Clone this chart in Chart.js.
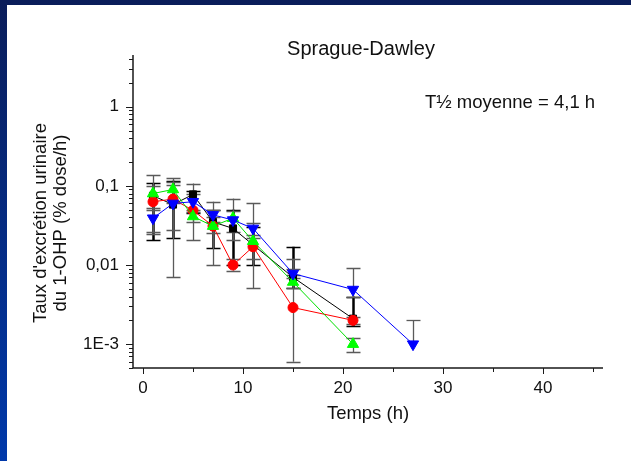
<!DOCTYPE html>
<html>
<head>
<meta charset="utf-8">
<script src="https://cdn.jsdelivr.net/npm/chart.js@4/dist/chart.umd.min.js"></script>
<style>
  html, body { margin: 0; padding: 0; background: #fff; }
  #wrap { width: 631px; height: 461px; position: relative; }
</style>
</head>
<body>
<div id="wrap"><canvas id="c" width="631" height="461"></canvas></div>
<script>
// Sampling times (h)
const times = [1, 3, 5, 7, 9, 11, 15, 21, 27];

// Mean excretion rate and its error range, per series (% dose/h)
const meanVals  = [0.075, 0.058, 0.078, 0.035, 0.029, 0.018, 0.007, 0.0021, null];
const meanLow   = [0.0205, 0.022, 0.045, 0.0163, 0.010, 0.010, 0.0051, 0.0017, null];
const meanHigh  = [0.109, 0.116, 0.087, 0.049, 0.050, 0.030, 0.017, 0.0040, null];

const redVals   = [0.063, 0.068, 0.049, 0.031, 0.010, 0.017, 0.0029, 0.0020, null];
const redLow    = [0.026, 0.0276, 0.0205, 0.010, 0.0085, 0.012, 0.0006, 0.0018, null];
const redHigh   = [0.100, 0.102, 0.107, 0.063, 0.012, 0.022, 0.012, 0.0022, null];

const greenVals = [0.080, 0.090, 0.041, 0.031, 0.039, 0.020, 0.0061, 0.0010, null];
const greenLow  = [0.050, 0.060, 0.035, 0.0253, 0.0205, 0.0051, 0.0051, 0.00079, null];
const greenHigh = [0.137, 0.124, 0.047, 0.040, 0.069, 0.060, 0.0075, 0.0012, null];

const blueVals  = [0.039, 0.060, 0.063, 0.043, 0.037, 0.029, 0.0078, 0.0049, 0.0010];
const blueLow   = [0.025, 0.007, 0.050, 0.035, 0.026, 0.024, 0.0068, 0.0040, 0.0010];
const blueHigh  = [0.053, 0.113, 0.080, 0.050, 0.048, 0.034, 0.0090, 0.0091, 0.0020];

// Axis ticks
const xTickValues = [0, 10, 20, 30, 40];
const xMinorValues = [5, 15, 25, 35, 45];
const yTickValues = [0.001, 0.01, 0.1, 1];
const yTickLabels = ['1E-3', '0,01', '0,1', '1'];

const FONT = "'Liberation Sans', Arial, sans-serif";

function pts(vals, lows, highs) {
  const out = [];
  times.forEach((t, i) => {
    if (vals[i] != null) out.push({ x: t, y: vals[i], lo: lows[i], hi: highs[i] });
  });
  return out;
}

// Blue frame along the top and left edges of the slide
const framePlugin = {
  id: 'frame',
  beforeDraw(chart) {
    const ctx = chart.ctx;
    const W = chart.width, H = chart.height;
    ctx.save();
    ctx.fillStyle = '#ffffff';
    ctx.fillRect(0, 0, W, H);
    const g = ctx.createLinearGradient(0, 0, 0, H);
    g.addColorStop(0, '#0a1d5a');
    g.addColorStop(1, '#0039aa');
    ctx.fillStyle = g;
    ctx.fillRect(0, 0, W, 5);
    ctx.fillRect(0, 0, 7, H);
    ctx.restore();
  }
};

// Vertical error bars with caps, drawn beneath the markers
const errorBarPlugin = {
  id: 'errorBars',
  beforeDatasetsDraw(chart) {
    const ctx = chart.ctx;
    const xs = chart.scales.x, ys = chart.scales.y;
    ctx.save();
    const sets = chart.data.datasets.slice().reverse();
    sets.forEach(ds => {
      ctx.strokeStyle = ds.errColor;
      ds.data.forEach(p => {
        const px = Math.round(xs.getPixelForValue(p.x)) + 0.5;
        const yl = ys.getPixelForValue(p.lo);
        const yh = ys.getPixelForValue(p.hi);
        ctx.lineWidth = ds.errWidth;
        ctx.beginPath();
        ctx.moveTo(px, yl); ctx.lineTo(px, yh);
        ctx.stroke();
        ctx.lineWidth = ds.capWidth;
        ctx.beginPath();
        if (p.hi > p.y) { ctx.moveTo(px - 7, Math.round(yh) + 0.5); ctx.lineTo(px + 7, Math.round(yh) + 0.5); }
        if (p.lo < p.y) { ctx.moveTo(px - 7, Math.round(yl) + 0.5); ctx.lineTo(px + 7, Math.round(yl) + 0.5); }
        ctx.stroke();
      });
    });
    ctx.restore();
  }
};

// Axis lines, major/minor tick marks and the free texts
const axesPlugin = {
  id: 'axesAndTexts',
  afterDraw(chart) {
    const ctx = chart.ctx;
    const a = chart.chartArea;
    const xs = chart.scales.x, ys = chart.scales.y;
    ctx.save();
    ctx.strokeStyle = '#1a1a1a';
    ctx.lineWidth = 1.5;
    ctx.beginPath();
    ctx.moveTo(a.left, a.top); ctx.lineTo(a.left, a.bottom);
    ctx.moveTo(a.left, a.bottom); ctx.lineTo(a.right, a.bottom);
    ctx.stroke();

    ctx.lineWidth = 1;
    ctx.beginPath();
    // y ticks: decades long, intermediates short
    for (let e = -4; e <= 0; e++) {
      for (let m = 1; m <= 9; m++) {
        const v = m * Math.pow(10, e);
        if (v < ys.min || v > ys.max) continue;
        const py = Math.round(ys.getPixelForValue(v)) + 0.5;
        const len = m === 1 ? 7 : 4;
        ctx.moveTo(a.left - len, py); ctx.lineTo(a.left, py);
      }
    }
    // x ticks
    xTickValues.forEach(v => {
      const px = Math.round(xs.getPixelForValue(v)) + 0.5;
      ctx.moveTo(px, a.bottom); ctx.lineTo(px, a.bottom + 6);
    });
    xMinorValues.forEach(v => {
      const px = Math.round(xs.getPixelForValue(v)) + 0.5;
      ctx.moveTo(px, a.bottom); ctx.lineTo(px, a.bottom + 4);
    });
    ctx.stroke();

    ctx.fillStyle = '#111';
    ctx.textAlign = 'center';
    ctx.textBaseline = 'alphabetic';
    ctx.font = '20px ' + FONT;
    ctx.fillText('Sprague-Dawley', 361, 55);
    ctx.font = '18.5px ' + FONT;
    ctx.fillText('T\u00bd moyenne = 4,1 h', 510, 108);
    ctx.fillText('Temps (h)', (a.left + a.right) / 2, 419);

    ctx.save();
    ctx.translate(0, 223);
    ctx.rotate(-Math.PI / 2);
    ctx.textBaseline = 'middle';
    ctx.fillText("Taux d'excr\u00e9tion urinaire", 0, 41);
    ctx.fillText('du 1-OHP (% dose/h)', 0, 61);
    ctx.restore();
    ctx.restore();
  }
};

const common = { showLine: true, borderWidth: 1, fill: false, tension: 0 };

new Chart(document.getElementById('c'), {
  type: 'scatter',
  data: {
    datasets: [
      Object.assign({}, common, {
        label: 'blue', data: pts(blueVals, blueLow, blueHigh),
        borderColor: '#0000ff', backgroundColor: '#0000ff',
        pointStyle: 'triangle', rotation: 180, pointRadius: 6.5,
        errColor: '#5a5a5a', errWidth: 1.3, capWidth: 1.3
      }),
      Object.assign({}, common, {
        label: 'green', data: pts(greenVals, greenLow, greenHigh),
        borderColor: '#00e000', backgroundColor: '#00ff00', pointBorderColor: '#00ff00',
        pointStyle: 'triangle', pointRadius: 6.5,
        errColor: '#5a5a5a', errWidth: 1.3, capWidth: 1.3
      }),
      Object.assign({}, common, {
        label: 'red', data: pts(redVals, redLow, redHigh),
        borderColor: '#ff0000', backgroundColor: '#ff0000',
        pointStyle: 'circle', pointRadius: 5,
        errColor: '#5a5a5a', errWidth: 1.3, capWidth: 1.3
      }),
      Object.assign({}, common, {
        label: 'moyenne', data: pts(meanVals, meanLow, meanHigh),
        borderColor: '#000', backgroundColor: '#000',
        pointStyle: 'rect', pointRadius: 5,
        errColor: '#000', errWidth: 2.5, capWidth: 1.5
      })
    ]
  },
  options: {
    responsive: false,
    animation: false,
    devicePixelRatio: 1,
    layout: { padding: { left: 0, right: 28, top: 55, bottom: 0 } },
    plugins: { legend: { display: false }, tooltip: { enabled: false }, title: { display: false } },
    scales: {
      x: {
        type: 'linear', min: -1, max: 46,
        grid: { display: false, drawTicks: false },
        border: { display: false },
        afterBuildTicks: s => { s.ticks = xTickValues.map(v => ({ value: v })); },
        afterFit: s => { s.height = 93; },
        ticks: { padding: 10, color: '#111', font: { family: FONT, size: 17 }, maxRotation: 0 }
      },
      y: {
        type: 'logarithmic', min: 0.0005, max: 4.5,
        grid: { display: false, drawTicks: false },
        border: { display: false },
        afterBuildTicks: s => { s.ticks = yTickValues.map(v => ({ value: v })); },
        afterFit: s => { s.width = 133; },
        ticks: {
          padding: 14, color: '#111', font: { family: FONT, size: 17 },
          callback: (v) => { const i = yTickValues.findIndex(t => Math.abs(t - v) / t < 1e-6); return i >= 0 ? yTickLabels[i] : ''; }
        }
      }
    }
  },
  plugins: [framePlugin, errorBarPlugin, axesPlugin]
});
</script>
</body>
</html>
